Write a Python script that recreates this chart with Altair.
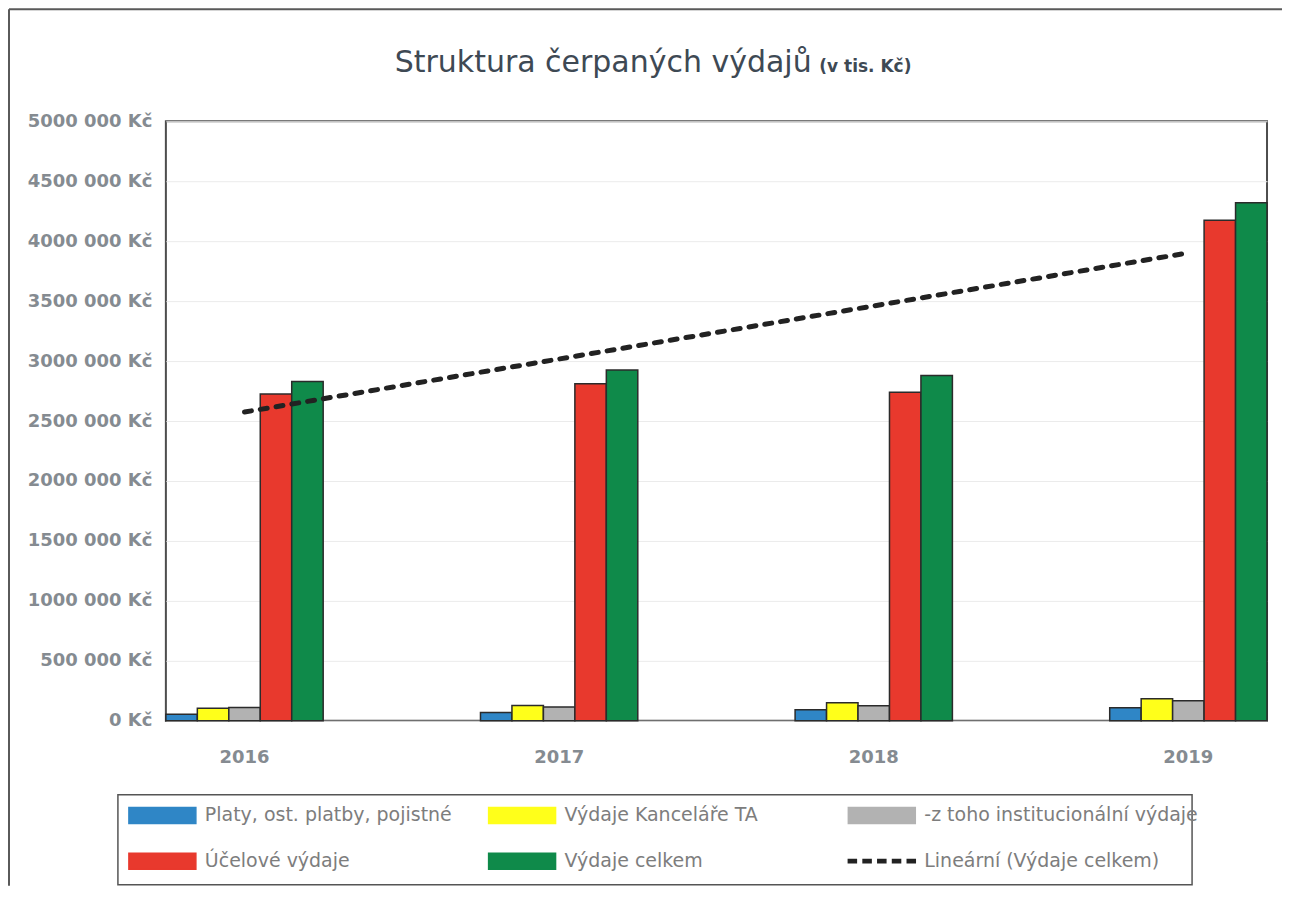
import altair as alt
import pandas as pd

YEARS = ["2016", "2017", "2018", "2019"]
SERIES = [
    "Platy, ost. platby, pojistné",
    "Výdaje Kanceláře TA",
    "-z toho institucionální výdaje",
    "Účelové výdaje",
    "Výdaje celkem",
]
TREND = "Lineární (Výdaje celkem)"

platy = [55000, 70000, 92000, 108000]
kancelar = [105000, 128000, 150000, 183000]
instit = [110000, 115000, 125000, 167000]
ucelove = [2725000, 2810000, 2740000, 4175000]
celkem = [2830000, 2925000, 2880000, 4320000]

COLORS = ["#2f86c6", "#ffff1a", "#b2b2b2", "#e8392d", "#0f8a4a", "#222222"]

TITLE = "Struktura čerpaných výdajů"
SUBTITLE = "(v tis. Kč)"

rows = []
for name, vals in zip(SERIES, [platy, kancelar, instit, ucelove, celkem]):
    for y, v in zip(YEARS, vals):
        rows.append({"year": y, "series": name, "value": v})
df = pd.DataFrame(rows)

FONT = "DejaVu Sans"
LABEL_COLOR = "#858b91"
TITLE_COLOR = "#3e4954"

RECT = "M-1,-0.24L1,-0.24L1,0.24L-1,0.24Z"
DASH = ("M-1,-0.05h0.24v0.1h-0.24Z M-0.56,-0.05h0.24v0.1h-0.24Z "
        "M-0.12,-0.05h0.24v0.1h-0.24Z M0.32,-0.05h0.24v0.1h-0.24Z "
        "M0.76,-0.05h0.24v0.1h-0.24Z")

legend = alt.Legend(
    title=None,
    orient="none",
    direction="horizontal",
    legendX=-38,
    legendY=660,
    columns=3,
    gridAlign="all",
    columnPadding=7,
    rowPadding=-9.5,
    padding=0,
    symbolType=alt.ExprRef(expr=f"datum.value === '{TREND}' ? '{DASH}' : '{RECT}'"),
    symbolSize=4489,
    symbolStrokeColor="#2b2b2b",
    symbolStrokeWidth=1.5,
    symbolOpacity=1,
    labelFont=FONT,
    labelFontSize=19,
    labelColor="#7d7d7d",
    labelOffset=8,
    labelLimit=0,
)

color = alt.Color(
    "series:N",
    scale=alt.Scale(domain=SERIES + [TREND], range=COLORS),
    legend=legend,
)

xscale = alt.Scale(domain=YEARS, paddingInner=0.5, paddingOuter=0)

base = alt.Chart(df)

bars = base.mark_bar(stroke="#2b2b2b", strokeWidth=1.5).encode(
    x=alt.X(
        "year:N",
        scale=xscale,
        axis=alt.Axis(
            title=None, labelAngle=0, domain=False, ticks=False,
            labelFont=FONT, labelFontSize=18, labelFontWeight="bold",
            labelColor=LABEL_COLOR, labelPadding=28,
        ),
    ),
    xOffset=alt.XOffset("series:N", sort=SERIES, scale=alt.Scale(domain=SERIES, paddingInner=0, paddingOuter=0)),
    y=alt.Y(
        "value:Q",
        scale=alt.Scale(domain=[0, 5000000], nice=False),
        axis=alt.Axis(
            title=None,
            values=list(range(0, 5000001, 500000)),
            labelExpr="datum.value == 0 ? '0 Kč' : format(datum.value / 1000, 'd') + ' 000 Kč'",
            domain=False, ticks=False,
            gridColor="#ebebeb", gridWidth=1,
            labelFont=FONT, labelFontSize=18, labelFontWeight="bold",
            labelColor=LABEL_COLOR, labelPadding=14,
        ),
    ),
    color=color,
)

trend = (
    base.transform_filter(alt.datum.series == "Výdaje celkem")
    .transform_calculate(yr="toNumber(datum.year)")
    .transform_regression("yr", "value")
    .transform_calculate(year="toString(datum.yr)", series=f"'{TREND}'")
    .mark_line(strokeWidth=5, strokeDash=[7, 9], strokeCap="round")
    .encode(
        x=alt.X("year:N", scale=xscale),
        y=alt.Y("value:Q"),
        color=color,
    )
)

one = alt.Data(values=[{"t": TITLE, "s": SUBTITLE}])

title = alt.Chart(one).mark_text(
    align="left", baseline="alphabetic", font=FONT, fontSize=30,
    color=TITLE_COLOR,
).encode(text="t:N", x=alt.value(229), y=alt.value(-49))

subtitle = alt.Chart(one).mark_text(
    align="left", baseline="alphabetic", font=FONT, fontSize=17,
    fontWeight="bold", color=TITLE_COLOR,
).encode(text="s:N", x=alt.value(654), y=alt.value(-49))

border_left = alt.Chart(one).mark_rule(color="#5a5a5a", strokeWidth=2).encode(
    x=alt.value(-157), y=alt.value(-112), y2=alt.value(765)
)
border_top = alt.Chart(one).mark_rule(color="#5a5a5a", strokeWidth=2).encode(
    y=alt.value(-112), x=alt.value(-157), x2=alt.value(1117)
)
legend_box = alt.Chart(one).mark_rect(
    fill="transparent", stroke="#555555", strokeWidth=1.5
).encode(x=alt.value(-48), x2=alt.value(1027), y=alt.value(674), y2=alt.value(764))

chart = (
    alt.layer(bars, trend, title, subtitle, border_left, border_top, legend_box)
    .properties(width=1102, height=600, padding=0)
    .configure_view(stroke="#4d4d4d", strokeWidth=2)
)

chart.save("out.html", embed_options={"renderer": "svg", "actions": False})
